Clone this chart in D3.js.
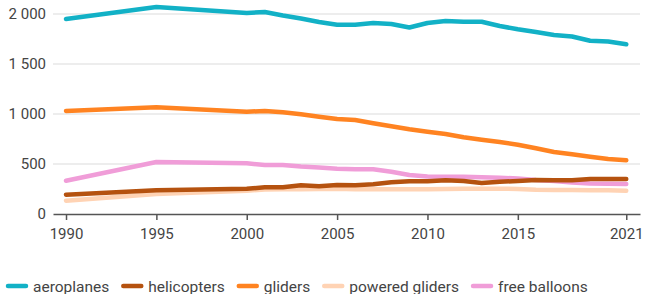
<!DOCTYPE html>
<html><head><meta charset="utf-8">
<script src="https://cdn.jsdelivr.net/npm/d3@7"></script>
<style>
body{margin:0;background:#fff;}
text{font-family:Roboto,"Noto Sans",sans-serif;}
</style></head>
<body><svg id="c" width="645" height="294"></svg>
<script>
const years = [1990,1995,2000,2001,2002,2003,2004,2005,2006,2007,2008,2009,2010,2011,2012,2013,2014,2015,2016,2017,2018,2019,2020,2021];
const aeroplanes = [1950,2070,2010,2020,1985,1955,1920,1893,1892,1910,1900,1865,1910,1930,1922,1922,1880,1847,1820,1790,1775,1732,1725,1697];
const helicopters = [193,237,253,267,267,287,277,290,287,297,317,327,327,337,330,310,323,330,340,337,337,350,350,350];
const gliders = [1030,1067,1023,1030,1017,997,973,950,940,907,877,847,823,800,767,743,720,693,657,620,597,573,550,537];
const poweredGliders = [133,200,233,245,247,247,250,253,248,247,247,247,247,250,253,253,253,250,243,240,240,238,237,233];
const freeBalloons = [333,520,507,490,490,475,465,453,447,447,423,390,376,373,372,368,362,355,340,330,315,305,303,300];
const seriesNames = ["aeroplanes","helicopters","gliders","powered gliders","free balloons"];
const seriesColors = ["#12b1c6","#b5520f","#ff8321","#ffd3b4","#f09dd8"];
const yTicks = [0,500,1000,1500,2000];
const xTicks = [1990,1995,2000,2005,2010,2015,2021];

const seriesData = [aeroplanes,helicopters,gliders,poweredGliders,freeBalloons];
const svg = d3.select("#c");
const x = d3.scaleLinear().domain([1989.28,2021.76]).range([53,640]);
const y = d3.scaleLinear().domain([0,2000]).range([214,14]);
const fmt = v => d3.format(",")(v).replace(/,/g," ");

// grid
svg.append("g").selectAll("line").data(yTicks.filter(d=>d>0)).join("line")
  .attr("x1",53).attr("x2",640).attr("y1",d=>y(d)).attr("y2",d=>y(d))
  .attr("stroke","#dcdcdc").attr("stroke-width",1.2);
// y labels
svg.append("g").selectAll("text").data(yTicks).join("text")
  .attr("x",46).attr("y",d=>y(d)+5).attr("text-anchor","end")
  .attr("font-size",15).attr("fill","#444").text(fmt);

// x axis
const xa = svg.append("g").attr("transform","translate(0,214)")
  .call(d3.axisBottom(x).tickValues(xTicks).tickFormat(d3.format("d")).tickSize(6).tickPadding(8).tickSizeOuter(0));
xa.select(".domain").attr("stroke","#555").attr("stroke-width",1.5);
xa.selectAll(".tick line").attr("stroke","#555").attr("stroke-width",1.5);
xa.selectAll("text").attr("font-size",15).attr("fill","#444").attr("font-family","Roboto,sans-serif");

const line = d3.line().x((d,i)=>x(years[i])).y(d=>y(d));
const order = [4,3,2,1,0];
svg.append("g").selectAll("path").data(order).join("path")
  .attr("d",i=>line(seriesData[i])).attr("fill","none")
  .attr("stroke",i=>seriesColors[i]).attr("stroke-width",4.5)
  .attr("stroke-linejoin","round").attr("stroke-linecap","round");

// legend
const lg = svg.append("g").attr("transform","translate(0,286)");
let cx = 8;
seriesNames.forEach((n,i)=>{
  const g = lg.append("g").attr("transform",`translate(${cx},0)`);
  g.append("line").attr("x1",0).attr("x2",18).attr("stroke",seriesColors[i]).attr("stroke-width",4.5).attr("stroke-linecap","round");
  const t = g.append("text").attr("x",25).attr("y",5.5).attr("font-size",15.5).attr("fill","#444").text(n);
  cx += 25 + t.node().getComputedTextLength() + 14;
});
</script></body></html>
